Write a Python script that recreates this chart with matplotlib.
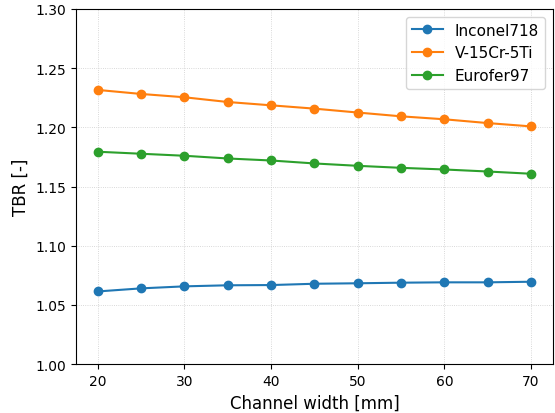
import matplotlib
matplotlib.use("Agg")
import matplotlib.pyplot as plt

# channel width in mm
width = [20, 25, 30, 35, 40, 45, 50, 55, 60, 65, 70]

tbr_inconel = [1.0614, 1.0640, 1.0657, 1.0666, 1.0668, 1.0679, 1.0683, 1.0688, 1.0691, 1.0691, 1.0696]
tbr_vcrti = [1.2316, 1.2282, 1.2254, 1.2214, 1.2186, 1.2158, 1.2125, 1.2093, 1.2068, 1.2036, 1.2008]
tbr_eurofer = [1.1794, 1.1777, 1.1760, 1.1737, 1.1720, 1.1695, 1.1675, 1.1658, 1.1644, 1.1627, 1.1608]

labels = ["Inconel718", "V-15Cr-5Ti", "Eurofer97"]

fig = plt.figure(figsize=(5.55, 4.14), dpi=100)
ax = fig.add_axes([0.137, 0.118, 0.859, 0.858])

ax.plot(width, tbr_inconel, marker='o', label=labels[0])
ax.plot(width, tbr_vcrti, marker='o', label=labels[1])
ax.plot(width, tbr_eurofer, marker='o', label=labels[2])

ax.set_ylim(1.00, 1.30)
ax.set_xlabel("Channel width [mm]", fontsize=12)
ax.set_ylabel("TBR [-]", fontsize=12)
ax.grid(linestyle=':', linewidth=0.6, color='#cccccc')
ax.legend(loc='upper right', fontsize=11)

fig.savefig("out.png", dpi=100)
